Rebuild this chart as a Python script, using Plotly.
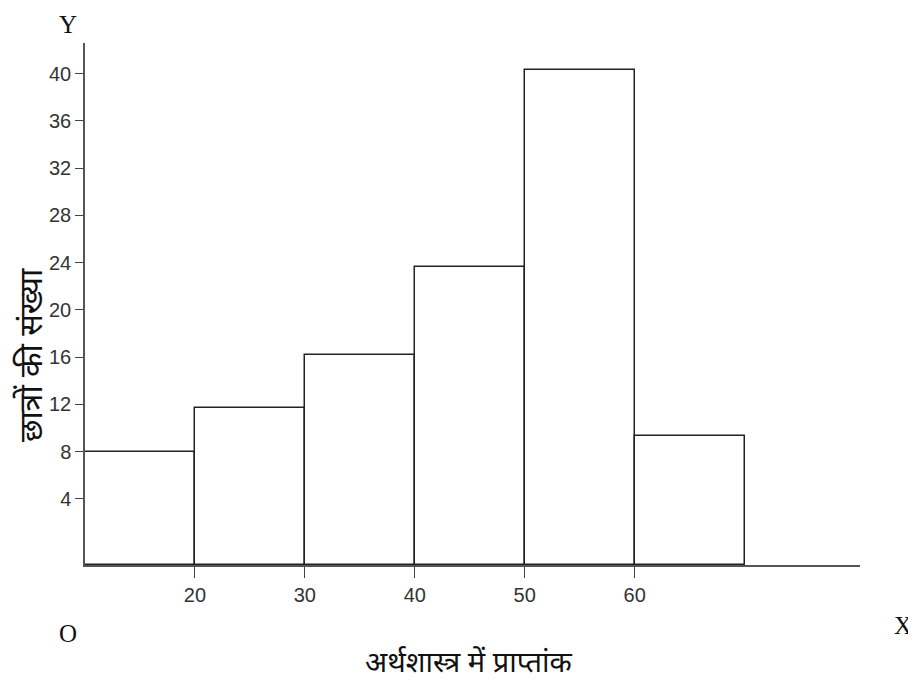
import plotly.graph_objects as go

# Data
class_starts = [10, 20, 30, 40, 50, 60]
class_width = 10
students = [8.0, 11.7, 16.2, 23.6, 40.3, 9.3]
x_ticks = [20, 30, 40, 50, 60]
y_ticks = [4, 8, 12, 16, 20, 24, 28, 32, 36, 40]
x_title = "अर्थशास्त्र में प्राप्तांक"
y_title = "छात्रों की संख्या"

X_RANGE = [10, 80.5]
Y_RANGE = [-1.6, 42.6]
y_floor = Y_RANGE[0]

centers = [s + class_width / 2 for s in class_starts]
heights = [v - y_floor for v in students]

# the page body adds an 8px margin; compensate so the plot sits where the reference does
BODY = 8
W, H = 916 - BODY, 680 - BODY
PLOT_L, PLOT_R, PLOT_T, PLOT_B = 85, 860, 43, 565  # page pixel coordinates
L, T = PLOT_L - BODY, PLOT_T - BODY
R, B = W + BODY - PLOT_R, H + BODY - PLOT_B
pw, ph = PLOT_R - PLOT_L, PLOT_B - PLOT_T

def px(x):
    return (x - PLOT_L) / pw

def py(y):
    return (PLOT_B - y) / ph

fig = go.Figure()
fig.add_trace(go.Bar(
    x=centers, y=heights, base=y_floor, width=class_width,
    marker=dict(color="white", line=dict(color="#222", width=1.5)),
    hoverinfo="skip", showlegend=False,
))

tick_font = dict(family="Liberation Sans, Arial, sans-serif", size=20, color="#333")
fig.update_layout(
    width=W, height=H,
    margin=dict(l=L, r=R, t=T, b=B),
    plot_bgcolor="white", paper_bgcolor="white",
    bargap=0,
    xaxis=dict(range=X_RANGE, tickvals=x_ticks, ticks="outside", ticklen=11,
               tickcolor="#444", showline=True, linecolor="#555", linewidth=1.5,
               showgrid=False, zeroline=False, tickfont=tick_font, automargin=False),
    yaxis=dict(range=Y_RANGE, tickvals=y_ticks, ticks="outside", ticklen=8,
               tickcolor="#444", showline=True, linecolor="#555", linewidth=1.5,
               showgrid=False, zeroline=False, tickfont=tick_font, ticklabelstandoff=0,
               automargin=False),
)

serif = dict(family="Liberation Serif, Times New Roman, serif", size=25, color="#111")
for label, x, y in [("Y", 68, 25), ("O", 68, 633), ("X", 903, 625)]:
    fig.add_annotation(text=label, x=px(x), y=py(y), xref="paper", yref="paper",
                       xanchor="center", yanchor="middle", showarrow=False, font=serif)

fig.add_annotation(text=x_title, x=px(469), y=py(660), xref="paper", yref="paper",
                   xanchor="center", yanchor="middle", showarrow=False,
                   font=dict(family="Noto Sans, sans-serif", size=29, color="#111"))
fig.add_annotation(text=y_title, x=px(30), y=py(355), xref="paper", yref="paper",
                   xanchor="center", yanchor="middle", showarrow=False,
                   textangle=-90,
                   font=dict(family="Noto Sans, sans-serif", size=32, color="#111"))

fig.write_html("out.html")
